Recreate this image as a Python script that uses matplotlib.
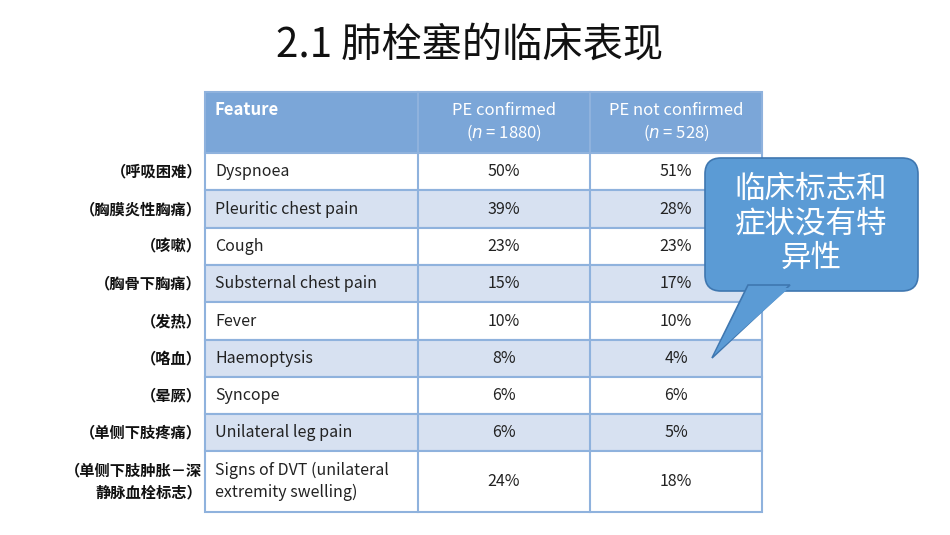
import matplotlib
matplotlib.use("Agg")
import matplotlib.pyplot as plt
from matplotlib.patches import Rectangle, FancyBboxPatch, Polygon

plt.rcParams['font.family'] = ['Noto Sans CJK SC', 'DejaVu Sans']

title = "2.1 肺栓塞的临床表现"
headers = ["Feature", "PE confirmed\n($n$ = 1880)", "PE not confirmed\n($n$ = 528)"]
features = ["Dyspnoea", "Pleuritic chest pain", "Cough", "Substernal chest pain", "Fever",
            "Haemoptysis", "Syncope", "Unilateral leg pain",
            "Signs of DVT (unilateral\nextremity swelling)"]
pe_conf = ["50%", "39%", "23%", "15%", "10%", "8%", "6%", "6%", "24%"]
pe_not = ["51%", "28%", "23%", "17%", "10%", "4%", "6%", "5%", "18%"]
cn_labels = ["（呼吸困难）", "（胸膜炎性胸痛）", "（咳嗽）", "（胸骨下胸痛）", "（发热）",
             "（咯血）", "（晕厥）", "（单侧下肢疼痛）", "（单侧下肢肿胀－深\n静脉血栓标志）"]
callout = "临床标志和\n症状没有特\n异性"

fig = plt.figure(figsize=(9.5, 5.35), dpi=100)
ax = fig.add_axes([0, 0, 1, 1])
ax.set_xlim(0, 950); ax.set_ylim(535, 0); ax.axis('off')

ax.text(470, 45, title, ha='center', va='center', fontsize=29, color='#111111')

cols = [205, 418, 590, 762]
rows = [92, 153, 190, 228, 265, 302, 340, 377, 414, 451, 512]
line_c = '#8fb2dd'
ax.add_patch(Rectangle((cols[0], rows[0]), cols[-1]-cols[0], rows[1]-rows[0], fc='#7ba6d8', ec=line_c, lw=1.5))
for i in range(len(features)):
    y0, y1 = rows[i+1], rows[i+2]
    fc = 'white' if i % 2 == 0 else '#d7e1f1'
    ax.add_patch(Rectangle((cols[0], y0), cols[-1]-cols[0], y1-y0, fc=fc, ec=line_c, lw=1.5))
    yc = (y0+y1)/2
    ax.text(cols[0]+10, yc, features[i], ha='left', va='center', fontsize=11.5, color='#222', linespacing=1.4)
    ax.text((cols[1]+cols[2])/2, yc, pe_conf[i], ha='center', va='center', fontsize=11.5, color='#222')
    ax.text((cols[2]+cols[3])/2, yc, pe_not[i], ha='center', va='center', fontsize=11.5, color='#222')
    ax.text(cols[0]-3, yc, cn_labels[i], ha='right', va='center', fontsize=11, fontweight='bold', color='#111', linespacing=1.4)
for c in cols[1:-1]:
    ax.plot([c, c], [rows[0], rows[-1]], color=line_c, lw=1.5)
yh = (rows[0]+rows[1])/2
ax.text(cols[0]+10, rows[0]+18, headers[0], ha='left', va='center', fontsize=12, fontweight='bold', color='white')
ax.text((cols[1]+cols[2])/2, yh, headers[1], ha='center', va='center', fontsize=12, color='white', linespacing=1.3)
ax.text((cols[2]+cols[3])/2, yh, headers[2], ha='center', va='center', fontsize=12, color='white', linespacing=1.3)

# callout
box_fc, box_ec = '#5b9bd5', '#3f77b0'
ax.add_patch(Polygon([[748, 285], [790, 285], [712, 358]], closed=True, fc=box_fc, ec=box_ec, lw=1.2, zorder=5))
ax.add_patch(FancyBboxPatch((705, 158), 213, 133, boxstyle="round,pad=0,rounding_size=16",
                            fc=box_fc, ec=box_ec, lw=1.2, zorder=4))
ax.add_patch(Polygon([[749, 288], [789, 288], [714, 355]], closed=True, fc=box_fc, ec='none', zorder=6))
ax.text(811, 224, callout, ha='center', va='center', fontsize=22, color='white', linespacing=1.15, zorder=7)

fig.savefig("out.png", dpi=100)
